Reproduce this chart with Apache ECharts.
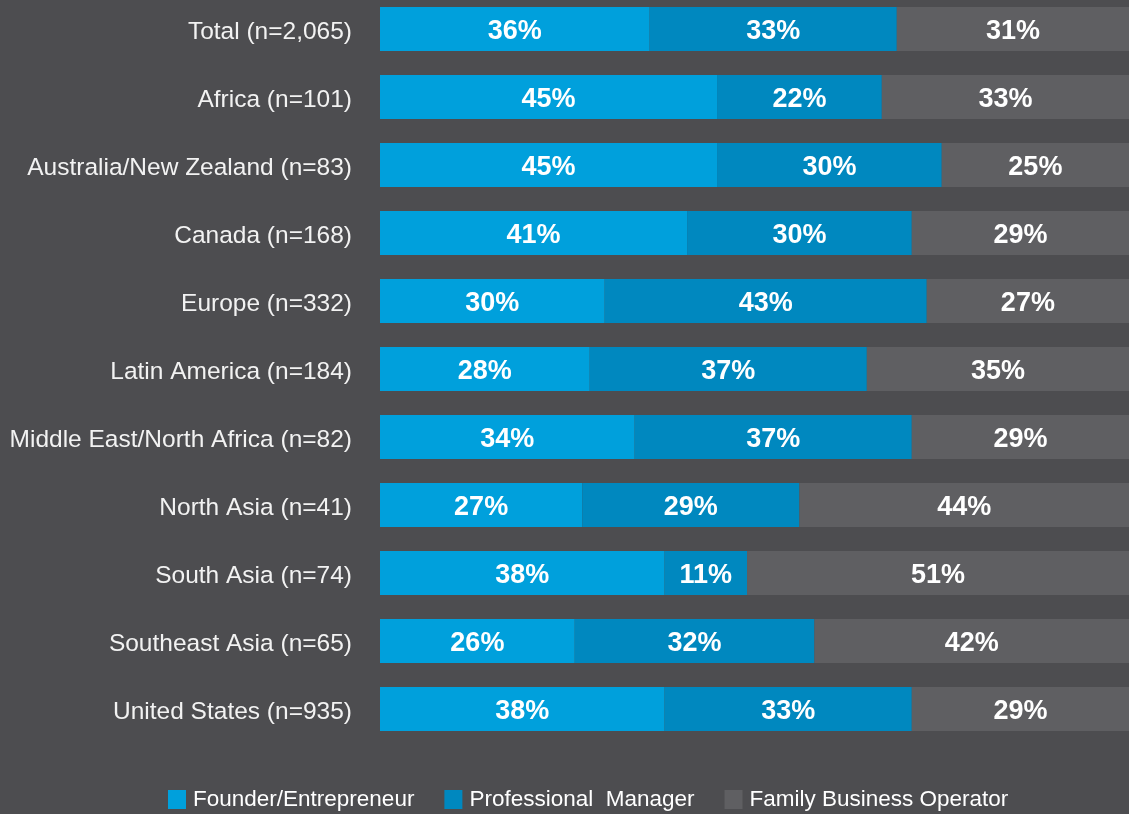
<!DOCTYPE html>
<html>
<head>
<meta charset="utf-8">
<title>Business operator type by region</title>
<script src="https://cdn.jsdelivr.net/npm/echarts@6/dist/echarts.min.js"></script>
<style>
  html, body { margin: 0; padding: 0; background: #4d4d50; }
  #chart { width: 1129px; height: 814px; }
</style>
</head>
<body>
<div id="chart"></div>
<script>
// regions (top to bottom)
var categories = [
	'Total (n=2,065)',
	'Africa (n=101)',
	'Australia/New Zealand (n=83)',
	'Canada (n=168)',
	'Europe (n=332)',
	'Latin America (n=184)',
	'Middle East/North Africa (n=82)',
	'North Asia (n=41)',
	'South Asia (n=74)',
	'Southeast Asia (n=65)',
	'United States (n=935)'
];

// percentages
var founder = [36, 45, 45, 41, 30, 28, 34, 27, 38, 26, 38];
var professional = [33, 22, 30, 30, 43, 37, 37, 29, 11, 32, 33];
var family = [31, 33, 25, 29, 27, 35, 29, 44, 51, 42, 29];

var seriesNames = ['Founder/Entrepreneur', 'Professional  Manager', 'Family Business Operator'];
var colors = ['#00a0dc', '#0088bf', '#5f5f62'];

var FONT = 'Liberation Sans, Arial, sans-serif';

var chart = echarts.init(document.getElementById('chart'));

function makeSeries(name, data, color) {
	return {
		name: name,
		type: 'bar',
		stack: 'all',
		data: data,
		barWidth: 44,
		itemStyle: { color: color },
		label: {
			show: true,
			position: 'inside',
			formatter: '{c}%',
			offset: [0, 3],
			color: '#ffffff',
			fontFamily: FONT,
			fontWeight: 'bold',
			fontSize: 27
		},
		emphasis: { disabled: true }
	};
}

chart.setOption({
	backgroundColor: '#4d4d50',
	animation: false,
	color: colors,
	grid: {
		left: 380,
		right: 0,
		top: -5,
		height: 748,
		containLabel: false,
		outerBoundsMode: 'none'
	},
	legend: {
		left: 168,
		top: 788,
		padding: 0,
		icon: 'rect',
		itemWidth: 18,
		itemHeight: 19,
		itemGap: 30,
		textStyle: {
			color: '#ffffff',
			fontFamily: FONT,
			fontSize: 22.5,
			padding: [3, 0, 0, 2]
		},
		data: seriesNames
	},
	xAxis: {
		type: 'value',
		min: 0,
		max: 100,
		show: false
	},
	yAxis: {
		type: 'category',
		data: categories,
		inverse: true,
		axisLine: { show: false },
		axisTick: { show: false },
		splitLine: { show: false },
		axisLabel: {
			margin: 28,
			formatter: '{a|{value}}',
			rich: {
				a: {
					color: '#f2f2f2',
					fontFamily: FONT,
					fontSize: 24.5,
					padding: [6, 0, 0, 0]
				}
			}
		}
	},
	series: [
		makeSeries(seriesNames[0], founder, colors[0]),
		makeSeries(seriesNames[1], professional, colors[1]),
		makeSeries(seriesNames[2], family, colors[2])
	]
});
</script>
</body>
</html>
